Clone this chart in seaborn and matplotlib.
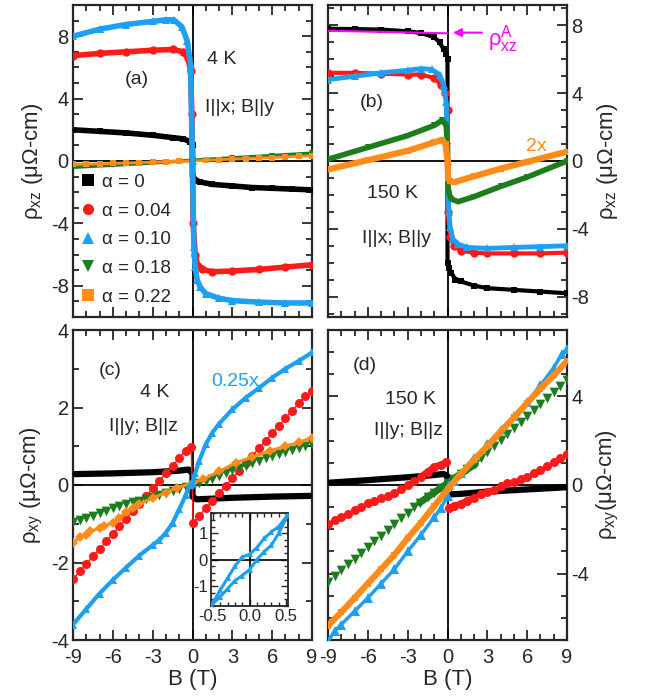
import numpy as np
import pandas as pd
import matplotlib
matplotlib.use("Agg")
import matplotlib.pyplot as plt
from matplotlib.lines import Line2D
from matplotlib.ticker import MultipleLocator
import seaborn as sns

# ---------------- data ----------------
# Panel (a): 4 K, I||x; B||y  (rho_xz)
B_a_blk = [-9, -7, -5, -3, -1.5, -0.7, -0.2, 0, 0, 0.3, 0.6, 1.5, 3, 4.5, 6, 7.5, 9]
v_a_blk = [2.0, 1.9, 1.8, 1.65, 1.5, 1.42, 1.25, 1.0, -1.0, -1.25, -1.35, -1.5, -1.6, -1.7, -1.75, -1.8, -1.85]
B_a_red = [-9, -7, -5, -3, -1.5, -0.7, -0.35, -0.15, -0.05, 0.05, 0.2, 0.4, 0.7, 1.5, 3, 5, 7, 9]
v_a_red = [6.75, 6.9, 7.0, 7.1, 7.15, 7.0, 6.6, 5.8, 3.0, -4.0, -6.0, -6.7, -6.95, -7.1, -7.05, -6.95, -6.8, -6.65]
B_a_blu = [-9, -7, -5, -3, -2, -1.4, -0.8, -0.4, -0.15, 0, 0.1, 0.2, 0.35, 0.6, 1, 2, 3, 5, 7, 9]
v_a_blu = [8.0, 8.45, 8.75, 8.95, 9.05, 9.05, 8.6, 7.7, 6.2, 0.0, -5.5, -6.8, -7.6, -8.1, -8.5, -8.8, -8.95, -9.05, -9.1, -9.1]
B_a_grn = [-9, -6, -3, 0, 3, 6, 9]
v_a_grn = [-0.4, -0.27, -0.12, 0.05, 0.2, 0.35, 0.5]
B_a_org = [-9, -8, -7, -6, -5, -4, -3, -2, -1, 0, 1, 2, 3, 4, 5, 6, 7, 8, 9]
v_a_org = [-0.2, -0.2, -0.18, -0.15, -0.12, -0.1, -0.07, -0.04, -0.02, 0.0, 0.04, 0.08, 0.12, 0.15, 0.19, 0.22, 0.26, 0.3, 0.34]

# Panel (b): 150 K, I||x; B||y  (rho_xz)
B_b_blk = [-9, -7, -5, -3, -2, -1, -0.6, -0.3, -0.1, 0, 0, 0.1, 0.3, 0.6, 1, 2, 3, 5, 7, 9]
v_b_blk = [7.8, 7.78, 7.75, 7.65, 7.55, 7.3, 7.0, 6.6, 6.3, 6.0, -6.0, -6.3, -6.6, -7.0, -7.1, -7.35, -7.5, -7.6, -7.7, -7.8]
B_b_red = [-9, -7, -5, -3, -2, -1, -0.5, -0.2, 0, 0, 0.2, 0.5, 1, 2, 3, 5, 7, 9]
v_b_red = [5.2, 5.2, 5.15, 5.1, 5.1, 4.9, 4.5, 4.0, 3.0, -3.0, -4.5, -5.0, -5.3, -5.4, -5.45, -5.45, -5.45, -5.4]
B_b_blu = [-9, -7, -5, -3, -2, -1.2, -0.6, -0.3, -0.1, 0, 0.1, 0.2, 0.4, 0.8, 1.5, 3, 5, 7, 9]
v_b_blu = [4.8, 5.0, 5.2, 5.35, 5.45, 5.4, 5.1, 4.5, 3.5, 0.0, -3.0, -3.9, -4.6, -4.9, -5.1, -5.15, -5.1, -5.05, -5.0]
B_b_grn = [-9, -6, -3, -1, -0.4, -0.1, 0, 0.05, 0.15, 0.3, 0.8, 2, 4, 6, 9]
v_b_grn = [0.1, 0.8, 1.5, 2.1, 2.4, 2.1, 0.9, -1.6, -2.0, -2.25, -2.4, -2.1, -1.5, -0.95, 0.0]
B_b_org = [-9, -6, -3, -1, -0.4, -0.15, 0, 0.05, 0.2, 0.5, 2, 4, 6, 9]
v_b_org = [-0.5, 0.05, 0.6, 1.1, 1.25, 1.0, 0.0, -1.0, -1.2, -1.25, -0.9, -0.45, -0.05, 0.55]
B_b_ref = [-9, 0]          # magenta guide line for rho^A_xz
v_b_ref = [7.68, 7.53]

# Panel (c): 4 K, I||y; B||z  (rho_xy)
B_c_blk = [-9, -6, -3, -1, -0.3, 0, 0, 0.3, 1, 3, 6, 9]
v_c_blk = [0.28, 0.3, 0.33, 0.37, 0.4, 0.3, -0.3, -0.37, -0.36, -0.33, -0.3, -0.28]
B_c_red = [-9, -8.5, -8, -7.5, -7, -6.5, -6, -5.5, -5, -4.5, -4, -3.5, -3, -2.5, -2, -1.5, -1, -0.5, -0.1,
           0.05, 0.5, 1, 1.5, 2, 2.5, 3, 3.5, 4, 4.5, 5, 5.5, 6, 6.5, 7, 7.5, 8, 8.5, 9]
v_c_red = [-2.43, -2.23, -2.04, -1.84, -1.65, -1.45, -1.26, -1.06, -0.87, -0.67, -0.48, -0.28, -0.09, 0.11, 0.30,
           0.50, 0.69, 0.89, 0.97, -0.97, -0.8, -0.6, -0.41, -0.21, -0.02, 0.17, 0.37, 0.56, 0.75, 0.95, 1.14,
           1.33, 1.53, 1.72, 1.92, 2.11, 2.30, 2.42]
B_c_blu = [-9, -8, -7, -6, -5, -4, -3, -2.5, -2, -1.5, -1, -0.5, -0.2, 0, 0.2, 0.5, 1, 1.5, 2, 3, 4, 5, 6, 7, 8, 9]
v_c_blu = [-3.6, -3.2, -2.8, -2.45, -2.13, -1.82, -1.55, -1.42, -1.23, -0.98, -0.63, -0.25, 0.0, 0.05, 0.3, 0.62,
           1.05, 1.35, 1.58, 1.95, 2.25, 2.5, 2.77, 3.0, 3.2, 3.42]
B_c_grn = [-9, -8.5, -8, -7.5, -7, -6.5, -6, -5.5, -5, -4.5, -4, -3.5, -3, -2.5, -2, -1.5, -1, -0.5, 0,
           0.5, 1, 1.5, 2, 2.5, 3, 3.5, 4, 4.5, 5, 5.5, 6, 6.5, 7, 7.5, 8, 8.5, 9]
v_c_grn = [-0.95, -0.9, -0.85, -0.79, -0.73, -0.66, -0.6, -0.55, -0.5, -0.45, -0.4, -0.35, -0.3, -0.25, -0.2,
           -0.15, -0.1, -0.05, 0.0, 0.05, 0.1, 0.16, 0.22, 0.3, 0.38, 0.44, 0.5, 0.56, 0.62, 0.69, 0.75, 0.8,
           0.85, 0.9, 0.96, 1.0, 1.05]
B_c_org = [-9, -8.5, -8, -7.7, -7, -6.7, -6, -5.5, -5, -4.5, -4, -3, -2, -1.2, 0, 0.8, 2, 3.3, 4.5, 5.8, 7, 8, 9]
v_c_org = [-1.49, -1.35, -1.28, -1.19, -1.12, -1.06, -0.98, -0.84, -0.7, -0.59, -0.5, -0.33, -0.2, -0.07, 0.05,
           0.15, 0.35, 0.58, 0.72, 0.88, 1.0, 1.1, 1.22]
# inset of (c): low-field loop of alpha = 0.10
B_in = [-0.52, -0.4, -0.3, -0.2, -0.1, 0.0, 0.1, 0.2, 0.3, 0.4, 0.52, 0.4, 0.3, 0.2, 0.1, 0.0, -0.1, -0.2, -0.3, -0.4, -0.52]
v_in = [-1.72, -1.4, -1.1, -0.8, -0.6, -0.38, 0.0, 0.3, 0.55, 1.0, 1.68, 1.25, 1.05, 0.8, 0.45, 0.2, 0.1, -0.25, -0.7, -1.15, -1.72]

# Panel (d): 150 K, I||y; B||z  (rho_xy)
B_d_blk = [-9, -6, -3, -1, -0.3, 0, 0, 0.3, 1, 3, 6, 9]
v_d_blk = [0.1, 0.22, 0.35, 0.45, 0.5, 0.4, -0.3, -0.42, -0.4, -0.3, -0.2, -0.1]
B_d_red = [-9, -8.5, -8, -7.5, -7, -6.5, -6, -5.5, -5, -4.5, -4, -3.5, -3, -2.5, -2, -1.5, -1, -0.5, -0.1,
           0.1, 0.5, 1, 1.5, 2, 2.5, 3, 3.5, 4, 4.5, 5, 5.5, 6, 6.5, 7, 7.5, 8, 8.5, 9]
v_d_red = [-1.75, -1.6, -1.45, -1.3, -1.13, -0.98, -0.83, -0.7, -0.6, -0.5, -0.35, -0.18, 0.0, 0.18, 0.38, 0.6,
           0.82, 0.92, 1.02, -1.03, -0.95, -0.85, -0.7, -0.58, -0.42, -0.3, -0.22, -0.05, 0.07, 0.15, 0.25,
           0.38, 0.55, 0.7, 0.88, 1.05, 1.22, 1.4]
B_d_grn = [-9, -8.5, -8, -7.5, -7, -6.5, -6, -5.5, -5, -4.5, -4, -3.5, -3, -2.5, -2.1, -1.5, -1, -0.5, 0,
           0.5, 1, 1.5, 2.1, 2.5, 3, 3.5, 4, 4.5, 5, 5.5, 6, 6.5, 7, 7.5, 8, 8.5, 9]
v_d_grn = [-4.37, -4.11, -3.85, -3.59, -3.33, -3.07, -2.81, -2.55, -2.29, -2.03, -1.77, -1.51, -1.25, -0.99,
           -0.8, -0.55, -0.34, -0.13, 0.08, 0.29, 0.5, 0.71, 0.94, 1.22, 1.49, 1.76, 2.03, 2.30, 2.57, 2.84,
           3.11, 3.38, 3.65, 3.92, 4.19, 4.46, 4.73]
B_d_org = [-9, -8, -7, -6, -5, -4, -3, -2, -1, 0, 1, 2, 3, 4, 5, 6, 7, 8, 9]
v_d_org = [-6.35, -5.75, -5.1, -4.45, -3.8, -3.15, -2.4, -1.7, -0.95, -0.2, 0.5, 1.15, 1.75, 2.4, 3.05, 3.7,
           4.35, 4.95, 5.6]
B_d_blu = [-9, -8.5, -8, -7, -6, -5, -4, -3, -2, -1, -0.5, 0, 0.1, 0.5, 1, 2, 3, 4, 5, 6, 7, 8, 8.6, 9]
v_d_blu = [-7.05, -6.6, -6.3, -5.7, -5.1, -4.45, -3.8, -3.0, -2.25, -1.45, -1.05, -0.5, 0.0, 0.2, 0.55, 1.2,
           1.85, 2.5, 3.1, 3.75, 4.5, 5.3, 5.9, 6.15]

alpha_labels = ["α = 0", "α = 0.04", "α = 0.10", "α = 0.18", "α = 0.22"]
B_ticks = [-9, -6, -3, 0, 3, 6, 9]

# ---------------- style ----------------
sns.set_style("ticks")
plt.rcParams["font.family"] = ["Liberation Sans", "DejaVu Sans"]
plt.rcParams["mathtext.fontset"] = "custom"
plt.rcParams["mathtext.rm"] = "Liberation Sans"
plt.rcParams["mathtext.it"] = "Liberation Sans"
plt.rcParams["mathtext.bf"] = "Liberation Sans:bold"
plt.rcParams["mathtext.default"] = "regular"
plt.rcParams["axes.unicode_minus"] = False

C_BLK = "#000000"
C_RED = "#ff1a1a"
C_BLU = "#1e9ff0"
C_GRN = "#1d7d1d"
C_ORG = "#ff8c1a"
C_MAG = "#ff00ff"

fig = plt.figure(figsize=(6.49, 6.98), dpi=100)
W, H = 649.0, 698.0


def add_ax(x0, y0, x1, y1):
    return fig.add_axes([x0 / W, 1 - y1 / H, (x1 - x0) / W, (y1 - y0) / H])


ax_a = add_ax(73, 5, 312, 317)
ax_b = add_ax(328, 5, 567, 317)
ax_c = add_ax(73, 330, 312, 640)
ax_d = add_ax(328, 330, 567, 640)


def curve(ax, B, v, color, marker=None, lw=2.0, ms=5, line=True, z=3):
    df = pd.DataFrame({"B": B, "v": v})
    if line:
        sns.lineplot(data=df, x="B", y="v", ax=ax, color=color, lw=lw, sort=False,
                     estimator=None, marker=marker, markersize=ms, markeredgewidth=0,
                     zorder=z, legend=False)
    else:
        sns.scatterplot(data=df, x="B", y="v", ax=ax, color=color, marker=marker, s=ms ** 2,
                        linewidth=0, zorder=z, legend=False)


def style_ax(ax, ylim, ymajor, right=False, xlabels=False):
    ax.set_xlim(-9, 9)
    ax.set_ylim(*ylim)
    ax.axhline(0, color="k", lw=1.3, zorder=1)
    ax.axvline(0, color="k", lw=1.3, zorder=1)
    ax.set_xticks(B_ticks)
    ax.xaxis.set_minor_locator(MultipleLocator(1))
    ax.yaxis.set_major_locator(MultipleLocator(ymajor))
    ax.yaxis.set_minor_locator(MultipleLocator(1))
    ax.tick_params(which="both", direction="in", top=True, right=True, left=True, bottom=True,
                   width=1.3, labelsize=14.5, pad=3)
    ax.tick_params(axis="x", which="both", pad=6)
    ax.tick_params(which="major", length=7)
    ax.tick_params(which="minor", length=4)
    for s in ax.spines.values():
        s.set_linewidth(1.6)
    if right:
        ax.yaxis.tick_right()
        ax.tick_params(which="both", left=True, labelleft=False, labelright=True)
        ax.yaxis.set_label_position("right")
    if xlabels:
        ax.set_xlabel("B (T)", fontsize=16, labelpad=1)
    else:
        ax.set_xlabel("")
        ax.tick_params(labelbottom=False)


# ---- panel (a)
curve(ax_a, B_a_grn, v_a_grn, C_GRN, "v", lw=2.5, ms=5)
curve(ax_a, B_a_org, v_a_org, C_ORG, "s", lw=2.0, ms=5)
curve(ax_a, B_a_blk, v_a_blk, C_BLK, "s", lw=4.0, ms=5)
curve(ax_a, B_a_red, v_a_red, C_RED, "o", lw=4.0, ms=6)
curve(ax_a, B_a_blu, v_a_blu, C_BLU, "^", lw=4.0, ms=6)
style_ax(ax_a, (-10, 10), 4)
ax_a.set_ylabel("ρ$_{xz}$ (μΩ-cm)", fontsize=16, labelpad=4)
ax_a.text(0.268, 0.76, "(a)", transform=ax_a.transAxes, fontsize=14, ha="center", va="center")
ax_a.text(0.561, 0.824, "4 K", transform=ax_a.transAxes, fontsize=14, ha="left", va="center")
ax_a.text(0.552, 0.673, "I||x; B||y", transform=ax_a.transAxes, fontsize=14, ha="left", va="center")
handles = [Line2D([], [], ls="none", marker=m, color=c, markersize=8, markeredgewidth=0)
           for m, c in zip(["s", "o", "^", "v", "s"], [C_BLK, C_RED, C_BLU, C_GRN, C_ORG])]
ax_a.legend(handles, alpha_labels, loc="lower left", bbox_to_anchor=(-0.02, 0.0), frameon=False,
            fontsize=13.5, handletextpad=0.3, labelspacing=0.62, handlelength=0.9, borderaxespad=0.2)

# ---- panel (b)
curve(ax_b, B_b_ref, v_b_ref, C_MAG, None, lw=1.5, z=6)
curve(ax_b, B_b_blk, v_b_blk, C_BLK, "s", lw=3.0, ms=5)
curve(ax_b, B_b_red, v_b_red, C_RED, "o", lw=3.0, ms=6)
curve(ax_b, B_b_blu, v_b_blu, C_BLU, "^", lw=3.5, ms=6)
curve(ax_b, B_b_grn, v_b_grn, C_GRN, "v", lw=4.0, ms=5)
curve(ax_b, B_b_org, v_b_org, C_ORG, "s", lw=4.5, ms=5)
style_ax(ax_b, (-9.2, 9.2), 4, right=True)
ax_b.set_ylabel("ρ$_{xz}$ (μΩ-cm)", fontsize=16, labelpad=4)
ax_b.annotate("", xy=(0.2, 7.57), xytext=(2.8, 7.57),
              arrowprops=dict(arrowstyle="-|>", color=C_MAG, lw=1.5, mutation_scale=12), zorder=7)
ax_b.text(0.669, 0.89, "ρ$^{A}_{xz}$", transform=ax_b.transAxes, fontsize=16, color=C_MAG,
          ha="left", va="center")
ax_b.text(0.184, 0.689, "(b)", transform=ax_b.transAxes, fontsize=14, ha="center", va="center")
ax_b.text(0.27, 0.397, "150 K", transform=ax_b.transAxes, fontsize=14, ha="center", va="center")
ax_b.text(0.285, 0.253, "I||x; B||y", transform=ax_b.transAxes, fontsize=14, ha="center", va="center")
ax_b.text(0.87, 0.545, "2x", transform=ax_b.transAxes, fontsize=14, ha="center", va="center", color=C_ORG)

# ---- panel (c)
curve(ax_c, B_c_blk, v_c_blk, C_BLK, None, lw=4.5)
curve(ax_c, B_c_red, v_c_red, C_RED, "o", lw=1.0, ms=6.5)
curve(ax_c, B_c_grn, v_c_grn, C_GRN, "v", ms=7, line=False)
curve(ax_c, B_c_org, v_c_org, C_ORG, "D", lw=2.2, ms=5)
curve(ax_c, B_c_blu, v_c_blu, C_BLU, "^", lw=3.0, ms=6)
style_ax(ax_c, (-4, 4), 2, xlabels=True)
ax_c.set_ylabel("ρ$_{xy}$ (μΩ-cm)", fontsize=16, labelpad=4)
ax_c.text(0.155, 0.868, "(c)", transform=ax_c.transAxes, fontsize=14, ha="center", va="center")
ax_c.text(0.343, 0.80, "4 K", transform=ax_c.transAxes, fontsize=14, ha="center", va="center")
ax_c.text(0.293, 0.69, "I||y; B||z", transform=ax_c.transAxes, fontsize=14, ha="center", va="center")
ax_c.text(0.678, 0.835, "0.25x", transform=ax_c.transAxes, fontsize=14, ha="center", va="center", color=C_BLU)

# inset
ax_in = add_ax(210.7, 513.3, 288.3, 606)
curve(ax_in, B_in, v_in, C_BLU, "^", lw=2.2, ms=4)
ax_in.set_xlim(-0.53, 0.53)
ax_in.set_ylim(-1.75, 1.75)
ax_in.axhline(0, color="k", lw=1.2, zorder=1)
ax_in.axvline(0, color="k", lw=1.2, zorder=1)
ax_in.set_xticks([-0.5, 0.0, 0.5])
ax_in.set_xticklabels(["-0.5", "0.0", "0.5"])
ax_in.set_yticks([-1, 0, 1])
ax_in.set_yticklabels(["-1", "0", "1"])
ax_in.xaxis.set_minor_locator(MultipleLocator(0.1))
ax_in.yaxis.set_minor_locator(MultipleLocator(0.25))
ax_in.tick_params(which="both", direction="in", top=True, right=True, width=1.0, labelsize=12, pad=2)
ax_in.tick_params(which="major", length=5)
ax_in.tick_params(which="minor", length=3)
ax_in.set_xlabel("")
ax_in.set_ylabel("")
for s in ax_in.spines.values():
    s.set_linewidth(1.3)

# ---- panel (d)
curve(ax_d, B_d_blk, v_d_blk, C_BLK, None, lw=4.5)
curve(ax_d, B_d_red, v_d_red, C_RED, "o", ms=6.5, line=False)
curve(ax_d, B_d_red[14:19], v_d_red[14:19], C_RED, None, lw=4.5)
curve(ax_d, B_d_red[19:24], v_d_red[19:24], C_RED, None, lw=4.5)
curve(ax_d, B_d_grn, v_d_grn, C_GRN, "v", ms=7, line=False)
curve(ax_d, B_d_grn[14:23], v_d_grn[14:23], C_GRN, None, lw=5.0)
curve(ax_d, B_d_blu, v_d_blu, C_BLU, "^", lw=2.5, ms=7)
curve(ax_d, B_d_org, v_d_org, C_ORG, "s", lw=4.5, ms=4)
style_ax(ax_d, (-7, 7), 4, right=True, xlabels=True)
ax_d.set_ylabel("ρ$_{xy}$(μΩ-cm)", fontsize=16, labelpad=4)
ax_d.text(0.155, 0.884, "(d)", transform=ax_d.transAxes, fontsize=14, ha="center", va="center")
ax_d.text(0.347, 0.777, "150 K", transform=ax_d.transAxes, fontsize=14, ha="center", va="center")
ax_d.text(0.335, 0.677, "I||y; B||z", transform=ax_d.transAxes, fontsize=14, ha="center", va="center")

fig.savefig("out.png", dpi=100)
